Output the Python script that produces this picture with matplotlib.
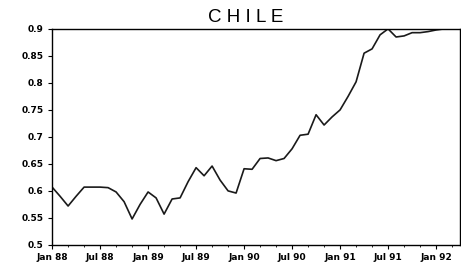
import numpy as np
import matplotlib
matplotlib.use("Agg")
import matplotlib.pyplot as plt

# monthly values, Jan 88 onwards
values = [0.607, 0.590, 0.572, 0.590, 0.607, 0.607, 0.607, 0.606, 0.598, 0.580,
          0.548, 0.575, 0.598, 0.587, 0.557, 0.585, 0.587, 0.617, 0.643, 0.628,
          0.646, 0.620, 0.600, 0.596, 0.641, 0.640, 0.660, 0.661, 0.656, 0.660,
          0.678, 0.703, 0.705, 0.741, 0.722, 0.737, 0.750, 0.775, 0.802, 0.855,
          0.863, 0.889, 0.900, 0.885, 0.887, 0.893, 0.893, 0.895, 0.898, 0.900,
          0.900]
tick_labels = ["Jan 88", "Jul 88", "Jan 89", "Jul 89", "Jan 90",
               "Jul 90", "Jan 91", "Jul 91", "Jan 92"]
y_ticks = [0.5, 0.55, 0.6, 0.65, 0.7, 0.75, 0.8, 0.85, 0.9]

months = np.arange(len(values))

fig = plt.figure(figsize=(4.61, 2.70), dpi=100)
ax = fig.add_axes([0.113, 0.093, 0.885, 0.80])
ax.plot(months, values, color="#1a1a1a", lw=1.2)

ax.set_xlim(0, 51)
ax.set_ylim(0.5, 0.9)
ax.set_xticks(np.arange(0, 49, 6))
ax.set_xticklabels(tick_labels, fontsize=6.5, fontweight="bold")
ax.set_xticks(np.arange(0, 51, 2), minor=True)
ax.set_yticks(y_ticks)
ax.set_yticklabels([f"{v:g}" for v in y_ticks], fontsize=6.5, fontweight="bold")
ax.tick_params(axis="both", direction="out", length=3, width=0.8, pad=3)
ax.tick_params(axis="x", which="minor", length=1.5, width=0.6)
for s in ax.spines.values():
    s.set_linewidth(1.0)

fig.text(0.532, 0.937, "C H I L E", ha="center", va="center",
         fontsize=13.5, fontweight="medium", family="Liberation Sans")

fig.savefig("out.png", dpi=100)
